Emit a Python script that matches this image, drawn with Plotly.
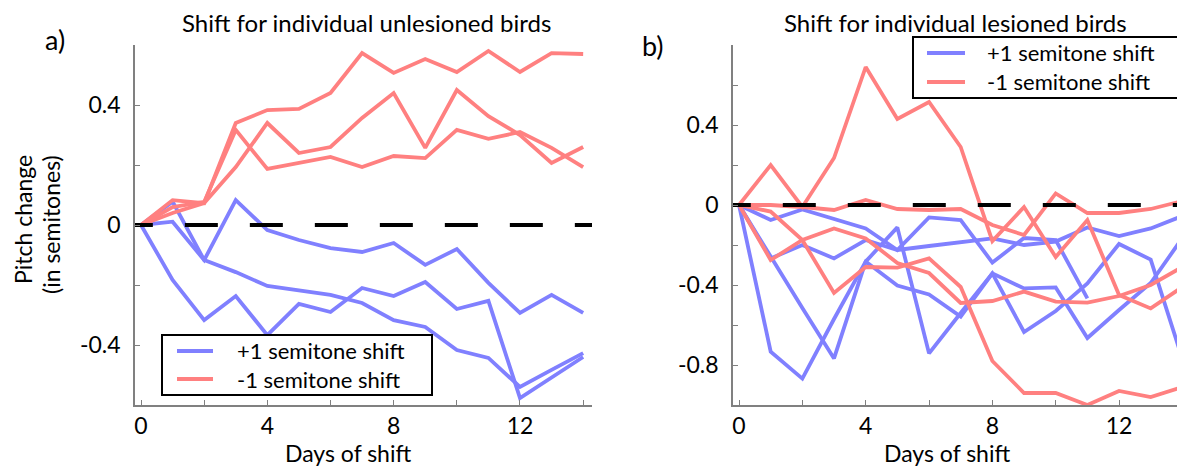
import plotly.graph_objects as go

W, H = 1177, 467

days = list(range(15))

# ---- panel a) unlesioned birds ----
left_plus = [
    [0, 0.011, -0.117, 0.083, -0.017, -0.05, -0.077, -0.09, -0.06, -0.133, -0.08, -0.193, -0.293, -0.233, -0.293],
    [0, 0.078, -0.117, -0.157, -0.203, -0.217, -0.233, -0.26, -0.317, -0.34, -0.417, -0.443, -0.54, -0.483, -0.427],
    [0, -0.183, -0.317, -0.237, -0.367, -0.263, -0.29, -0.21, -0.237, -0.19, -0.28, -0.253, -0.577, -0.51, -0.44],
]
left_minus = [
    [0, 0.083, 0.073, 0.34, 0.383, 0.387, 0.44, 0.573, 0.507, 0.553, 0.51, 0.58, 0.51, 0.573, 0.57],
    [0, 0.04, 0.073, 0.193, 0.34, 0.24, 0.26, 0.357, 0.44, 0.257, 0.45, 0.363, 0.30, 0.207, 0.26],
    [0, 0.06, 0.077, 0.317, 0.187, 0.207, 0.227, 0.193, 0.23, 0.223, 0.317, 0.287, 0.31, 0.257, 0.193],
]

# ---- panel b) lesioned birds ----
right_plus = [
    [0, -0.075, -0.022, -0.07, -0.117, -0.225, -0.062, -0.075, -0.288, -0.165, -0.175, -0.467, None, None, None],
    [0, -0.267, -0.2, -0.267, -0.175, -0.225, -0.205, -0.188, -0.167, -0.2, -0.183, -0.112, -0.155, -0.117, -0.055],
    [0, -0.26, -0.515, -0.767, -0.283, -0.112, -0.742, -0.54, -0.342, -0.635, -0.53, -0.392, -0.195, -0.273, -0.77],
    [0, -0.733, -0.868, -0.57, -0.283, -0.403, -0.447, -0.558, -0.342, -0.417, -0.412, -0.665, -0.525, -0.39, -0.165],
]
right_minus = [
    [0, 0.2, -0.01, 0.235, 0.69, 0.43, 0.515, 0.29, -0.18, -0.01, -0.26, -0.075, -0.45, -0.517, -0.41],
    [0, 0.0, -0.01, -0.025, 0.025, -0.02, -0.025, -0.02, -0.1, -0.15, 0.058, -0.04, -0.04, -0.02, 0.02],
    [0, -0.275, -0.175, -0.117, -0.167, -0.29, -0.34, -0.49, -0.48, -0.433, -0.483, -0.488, -0.455, -0.4, -0.31],
    [0, -0.033, -0.175, -0.44, -0.31, -0.313, -0.267, -0.41, -0.78, -0.94, -0.94, -1.0, -0.93, -0.96, -0.91],
]

zero_x = [-0.67, 15]
zero_y = [0, 0]

names = ["+1 semitone shift", "-1 semitone shift"]
BLUE = "rgb(128,128,255)"
RED = "rgb(255,128,128)"
FONT = "Lato"
AX = "#808080"
LW = 3.8

x_ticks = [0, 2, 4, 6, 8, 10, 12, 14]
x_ticktext = ["0", "", "4", "", "8", "", "12", ""]
yl_ticks = [-0.6, -0.4, -0.2, 0, 0.2, 0.4, 0.6]
yl_text = ["", "-0.4", "", "0", "", "0.4", ""]
yr_ticks = [-1.0, -0.8, -0.6, -0.4, -0.2, 0, 0.2, 0.4, 0.6, 0.8]
yr_text = ["", "-0.8", "", "-0.4", "", "0", "", "0.4", "", ""]

fig = go.Figure()

def add_panel(plus, minus, xa, ya):
    for ys in plus:
        fig.add_trace(go.Scatter(x=days, y=ys, mode="lines", xaxis=xa, yaxis=ya,
                                 line=dict(color=BLUE, width=LW), name=names[0],
                                 showlegend=False, connectgaps=False))
    for ys in minus:
        fig.add_trace(go.Scatter(x=days, y=ys, mode="lines", xaxis=xa, yaxis=ya,
                                 line=dict(color=RED, width=LW), name=names[1],
                                 showlegend=False))
    fig.add_trace(go.Scatter(x=zero_x, y=zero_y, mode="lines", xaxis=xa, yaxis=ya,
                             line=dict(color="black", width=4, dash="33px,32px"),
                             showlegend=False, hoverinfo="skip"))

add_panel(left_plus, left_minus, "x", "y")
add_panel(right_plus, right_minus, "x2", "y2")

ydom = [62 / H, 422 / H]
axis_common = dict(showline=True, linecolor=AX, linewidth=1.5, ticks="inside", ticklen=5,
                   tickwidth=1.2, tickcolor=AX, showgrid=False, zeroline=False,
                   tickfont=dict(family=FONT, size=23, color="black"))

fig.update_layout(
    width=W, height=H, margin=dict(l=0, r=0, t=0, b=0),
    paper_bgcolor="white", plot_bgcolor="white",
    font=dict(family=FONT, color="black"),
    xaxis=dict(domain=[135 / W, 592 / W], range=[-0.19, 14.28], tickvals=x_ticks,
               ticktext=x_ticktext, anchor="y", ticklabelstandoff=0, **axis_common),
    yaxis=dict(domain=ydom, range=[-0.6, 0.6], tickvals=yl_ticks, ticktext=yl_text,
               anchor="x", ticklabelstandoff=8, **axis_common),
    xaxis2=dict(domain=[733 / W, 1.0], range=[-0.19, 13.83], tickvals=x_ticks,
                ticktext=x_ticktext, anchor="y2", ticklabelstandoff=0, **axis_common),
    yaxis2=dict(domain=ydom, range=[-1.0, 0.8], tickvals=yr_ticks, ticktext=yr_text,
                anchor="x2", ticklabelstandoff=8, **axis_common),
    showlegend=False,
)

def ann(text, px, py, size=23, angle=0, xanchor="center", align="center"):
    fig.add_annotation(text=text, x=px / W, y=1 - py / H, xref="paper", yref="paper",
                       showarrow=False, xanchor=xanchor, yanchor="middle", align=align,
                       textangle=angle, font=dict(family=FONT, size=size, color="black"))

# legend keys: box, colour samples, and the two labels as one two-line text
def legend_box(x0, x1, y0, y1, sx0, sx1, rows, tx):
    fig.add_shape(type="rect", xref="paper", yref="paper", x0=x0 / W, x1=x1 / W,
                  y0=1 - y1 / H, y1=1 - y0 / H, line=dict(color="black", width=2),
                  fillcolor="white", layer="above")
    for (yy, col) in rows:
        fig.add_shape(type="line", xref="paper", yref="paper", x0=sx0 / W, x1=sx1 / W,
                      y0=1 - yy / H, y1=1 - yy / H, line=dict(color=col, width=LW),
                      layer="above")
    ann("<br>".join(names), tx, (y0 + y1) / 2, size=22, xanchor="left", align="left")

legend_box(162, 432, 335, 395, 177, 213, [(351, BLUE), (379, RED)], 235)
legend_box(913, 1200, 37, 98, 927, 965, [(53, BLUE), (82, RED)], 985)

ann("Shift for individual unlesioned birds", 366, 22, size=24)
ann("Shift for individual lesioned birds", 955, 22, size=24)
ann("a)", 55, 40, size=27)
ann("b)", 653, 45, size=27)
ann("Pitch change", 23, 220, angle=-90)
ann("(in semitones)", 51, 225, angle=-90)
ann("Days of shift", 348, 453)
ann("Days of shift", 947, 453)

fig.write_html("out.html")
